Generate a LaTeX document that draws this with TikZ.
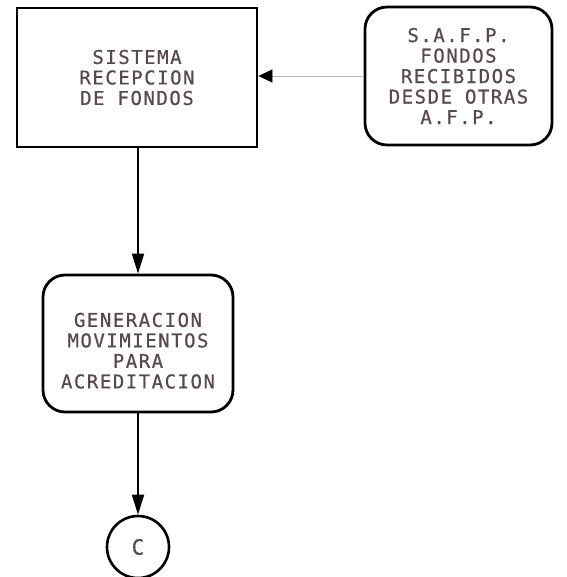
\documentclass[tikz,border=0pt]{standalone}
\usepackage{fontspec}
\setmainfont{DejaVu Sans Mono}
\newfontfamily\plotfont[LetterSpace=8,FakeBold=0.6]{DejaVu Sans Mono}
\usepackage{xcolor}
\usetikzlibrary{arrows.meta}
\definecolor{ink}{RGB}{88,74,74}

\begin{document}
\begin{tikzpicture}[x=1pt,y=-1pt,font=\plotfont\fontsize{19}{20.5}\selectfont,
  proc/.style={draw,line width=2.8pt,minimum height=139pt,align=center,text=ink},
  term/.style={proc,rounded corners=22pt},
  flow/.style={line width=1.8pt,-{Triangle[length=20pt,width=12pt]}}]
  \useasboundingbox[fill=white] (0,0) rectangle (566,577);
  \node[proc,minimum width=240pt] (sis) at (137,77.5) {SISTEMA\\RECEPCION\\DE FONDOS};
  \node[term,minimum width=187pt,minimum height=138pt] (safp) at (458.5,76) {S.A.F.P.\\FONDOS\\RECIBIDOS\\DESDE OTRAS\\A.F.P.};
  \node[term,minimum width=190pt,minimum height=137pt] (gen) at (138,343.5) {\mbox{}\\[8pt]GENERACION\\MOVIMIENTOS\\PARA\\ACREDITACION};
  \node[draw,circle,line width=2.6pt,minimum size=62pt,text=ink,font=\plotfont\fontsize{21}{22}\selectfont] (c) at (138,547) {C};
  \draw[line width=0.8pt,gray!55,-{Triangle[length=14pt,width=13pt,black]}] (safp.west) -- (safp.west -| sis.east);
  \draw[flow] (sis.south -| gen) -- (gen);
  \draw[flow] (gen) -- (c);
\end{tikzpicture}
\end{document}
